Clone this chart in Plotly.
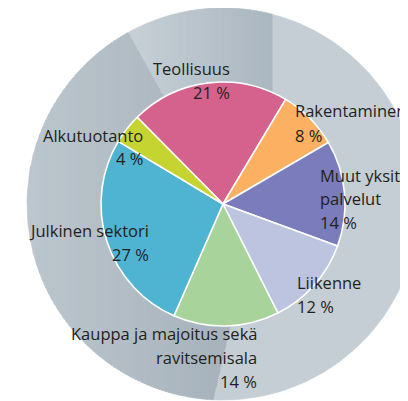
import numpy as np
import plotly.graph_objects as go

# ---------------- data ----------------
categories = ["Teollisuus", "Rakentaminen", "Muut yksityiset palvelut", "Liikenne",
              "Kauppa ja majoitus sekä ravitsemisala", "Julkinen sektori", "Alkutuotanto"]
values = [21, 8, 14, 12, 14, 27, 4]
colors = ["#d4628c", "#fbb161", "#7a7cbb", "#bcc4e0", "#a8d49c", "#4fb3d2", "#c6d431"]
# label lines (name lines) per category
label_lines = [["Teollisuus"], ["Rakentaminen"], ["Muut yksityiset", "palvelut"], ["Liikenne"],
               ["Kauppa ja majoitus sekä", "ravitsemisala"], ["Julkinen sektori"], ["Alkutuotanto"]]

# ---------------- layout constants (window pixels) ----------------
OFF = 8                     # page body margin
W, H = 408 - OFF, 401 - OFF  # figure size
CX, CY = 223 - OFF, 204 - OFF   # pie centre in figure pixels
R_PIE = 122
R_RING = 196
LINE_H = 24
FONT = "Open Sans"
FONT_SIZE = 16.5
PAD = 3   # annotation inner padding compensation
# label anchor in window pixels: (glyph edge x, y of first line centre, xanchor)
label_pos = [(229, 68, "right"), (296, 111, "left"), (321, 175, "left"), (298, 282, "left"),
             (256, 333, "right"), (148, 230, "right"), (142, 135, "right")]

fig = go.Figure()

# ---------------- decorative gray ring (behind the pie) ----------------
def pt(a, r=R_RING):
    a = np.radians(a)
    return CX + r * np.sin(a), CY - r * np.cos(a)

def arc(a0, a1, n=80):
    aa = np.linspace(a0, a1, n)
    return [pt(a) for a in aa]

def clip(poly, xa, keep_greater):
    out = []
    n = len(poly)
    for i in range(n):
        p, q = poly[i], poly[(i + 1) % n]
        pin = (p[0] >= xa) if keep_greater else (p[0] <= xa)
        qin = (q[0] >= xa) if keep_greater else (q[0] <= xa)
        if pin:
            out.append(p)
        if pin != qin:
            t = (xa - p[0]) / (q[0] - p[0])
            out.append((xa, p[1] + t * (q[1] - p[1])))
    return out

def hex2rgb(h):
    return np.array([int(h[i:i + 2], 16) for i in (1, 3, 5)], float)

def add_poly(poly, color):
    xs = [p[0] for p in poly] + [poly[0][0]]
    ys = [p[1] for p in poly] + [poly[0][1]]
    fig.add_trace(go.Scatter(x=xs, y=ys, mode="lines", fill="toself", fillcolor=color,
                             line=dict(width=0.6, color=color), hoverinfo="skip", showlegend=False))

def add_gradient(poly, x0, c0, x1, c1, step=3):
    xmin = min(p[0] for p in poly); xmax = max(p[0] for p in poly)
    a, b = hex2rgb(c0), hex2rgb(c1)
    xs = np.arange(np.floor(xmin), xmax, step)
    for xa in xs:
        piece = clip(clip(poly, xa, True), xa + step + 0.8, False)
        if len(piece) < 3:
            continue
        t = np.clip((xa + step / 2 - x0) / (x1 - x0), 0, 1)
        c = a + t * (b - a)
        add_poly(piece, "rgb(%d,%d,%d)" % tuple(np.round(c)))

# boundary geometry (window pixels converted to figure pixels)
a_top_left = -29.0
xv = 272.0 - OFF
a_vert = np.degrees(np.arcsin((xv - CX) / R_RING))
p1, p2 = np.array([227.0 - OFF, 340.0 - OFF]), np.array([213.0 - OFF, 400.0 - OFF])
d = p2 - p1
c0 = np.array([CX, CY], float)
A = d @ d; Bq = 2 * d @ (p1 - c0); Cq = (p1 - c0) @ (p1 - c0) - R_RING ** 2
tt = (-Bq + np.sqrt(Bq ** 2 - 4 * A * Cq)) / (2 * A)
pb = p1 + tt * d
a_bot = np.degrees(np.arctan2(pb[0] - CX, -(pb[1] - CY))) % 360
pin_line = tuple(p1 + (CY + 96 - p1[1]) / d[1] * d)

right_poly = [(xv, CY)] + arc(a_vert, a_bot) + [pin_line, (CX, CY)]
add_poly(right_poly, "#c5ced5")
top_poly = [(CX, CY)] + arc(a_top_left, a_vert) + [(xv, CY)]
add_gradient(top_poly, 135 - OFF, "#c6cfd6", 270 - OFF, "#abb7c0")
left_poly = [(CX, CY), pin_line] + arc(a_bot, 360 + a_top_left)
add_gradient(left_poly, 30 - OFF, "#bcc6cd", 215 - OFF, "#a8b4bd")

# ---------------- pie ----------------
start = -44.7
fig.add_trace(go.Pie(
    labels=categories, values=values, sort=False, direction="clockwise",
    rotation=start, marker=dict(colors=colors, line=dict(color="white", width=1.6)),
    textinfo="none", hoverinfo="label+value", showlegend=False,
    domain=dict(x=[(CX - R_PIE) / W, (CX + R_PIE) / W],
                y=[1 - (CY + R_PIE) / H, 1 - (CY - R_PIE) / H]),
))

# ---------------- labels ----------------
for lines, v, (lx, ly, anc) in zip(label_lines, values, label_pos):
    all_lines = lines + [f"{v} %"]
    ax = lx - OFF + (PAD if anc == "right" else -PAD)
    for i, txt in enumerate(all_lines):
        fig.add_annotation(x=ax / W, y=1 - (ly - OFF + i * LINE_H) / H,
                           xref="paper", yref="paper",
                           text=txt, showarrow=False, xanchor=anc, yanchor="middle",
                           align=anc, font=dict(family=FONT, size=FONT_SIZE, color="#231f20"))

fig.update_layout(
    width=W, height=H, margin=dict(l=0, r=0, t=0, b=0),
    paper_bgcolor="white", plot_bgcolor="rgba(0,0,0,0)",
    xaxis=dict(range=[0, W], visible=False, fixedrange=True),
    yaxis=dict(range=[H, 0], visible=False, fixedrange=True),
    showlegend=False,
)
fig.write_html("out.html")
